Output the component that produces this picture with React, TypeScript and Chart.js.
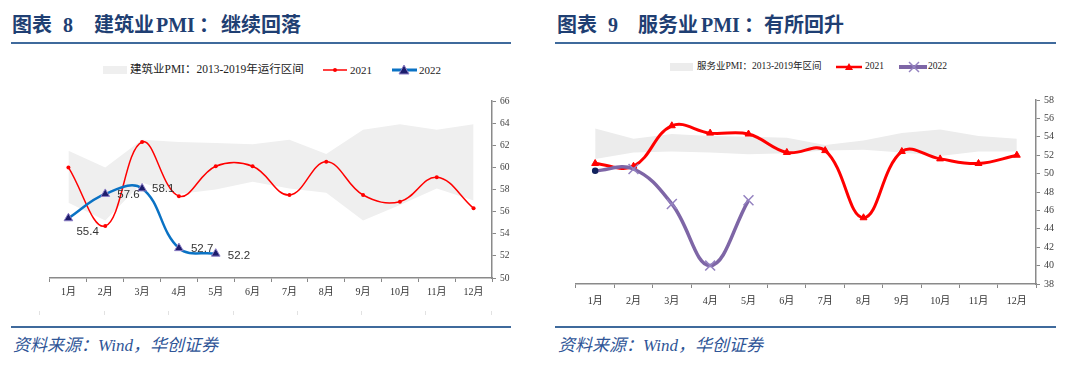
import React, { useEffect, useRef } from "react";
import { Chart, registerables } from "chart.js";
Chart.register(...registerables);

// ---------- data ----------
const months = ["1月", "2月", "3月", "4月", "5月", "6月", "7月", "8月", "9月", "10月", "11月", "12月"];

const con2021 = [60.0, 54.7, 62.3, 57.4, 60.1, 60.1, 57.5, 60.5, 57.5, 56.9, 59.1, 56.3];
const con2022 = [55.4, 57.6, 58.1, 52.7, 52.2];
const conBandHigh = [61.5, 60.0, 62.5, 62.3, 62.2, 62.1, 62.5, 61.2, 63.4, 63.9, 63.4, 63.9];
const conBandLow = [56.8, 55.2, 58.6, 57.6, 58.0, 58.7, 58.1, 57.7, 55.2, 56.6, 58.1, 57.0];

const svc2021 = [51.1, 50.8, 55.2, 54.4, 54.3, 52.3, 52.5, 45.2, 52.4, 51.6, 51.1, 52.0];
const svc2022 = [50.3, 50.5, 46.7, 40.0, 47.1];
const svcBandHigh = [54.9, 53.8, 54.3, 54.1, 54.0, 53.9, 53.1, 53.6, 54.4, 54.8, 54.1, 53.8];
const svcBandLow = [51.6, 52.3, 52.4, 52.3, 52.1, 52.2, 52.5, 52.6, 52.3, 51.9, 52.4, 52.4];

const conAxis = { min: 50, max: 66, step: 2 };
const svcAxis = { min: 38, max: 58, step: 2 };

// ---------- styles ----------
const SERIF = "'Liberation Serif', 'Noto Sans CJK SC', serif";
const SANS = "'Liberation Sans', Arial, sans-serif";
const labelOffsets = [[8, 14], [12, 1], [10, 0], [12, 1], [12, 2]];

const valueLabelPlugin = {
  id: "valueLabels",
  afterDatasetsDraw(chart: any) {
    const meta = chart.getDatasetMeta(3);
    const ctx = chart.ctx;
    ctx.save();
    ctx.font = `11.5px ${SANS}`;
    ctx.fillStyle = "#333";
    ctx.textBaseline = "middle";
    ctx.textAlign = "left";
    meta.data.forEach((pt: any, i: number) => {
      const [dx, dy] = labelOffsets[i];
      ctx.fillText(con2022[i].toFixed(1), pt.x + dx, pt.y + dy);
    });
    ctx.restore();
  },
};

function scales(axis: { min: number; max: number; step: number }, yFont: number, xPad: number, xH: number) {
  return {
    x: {
      offset: true,
      grid: { offset: true, drawOnChartArea: false, drawTicks: true, tickLength: 4, color: "#888", lineWidth: 1 },
      border: { display: true, color: "#8a8a8a", width: 1.5 },
      ticks: { font: { family: SERIF, size: 10 }, color: "#333", padding: xPad, maxRotation: 0, autoSkip: false },
      afterFit: (s: any) => {
        s.height = xH;
      },
    },
    y: {
      position: "right",
      min: axis.min,
      max: axis.max,
      ticks: { stepSize: axis.step, font: { family: SERIF, size: yFont }, color: "#404040", padding: 4 },
      grid: { drawOnChartArea: false, drawTicks: true, tickLength: 4, color: "#888", lineWidth: 1 },
      border: { display: true, color: "#8a8a8a", width: 1.5 },
      afterFit: (s: any) => {
        s.width = 28;
      },
    },
  };
}

function useChart(ref: React.RefObject<HTMLCanvasElement>, build: () => any) {
  useEffect(() => {
    if (!ref.current) return;
    const chart = new Chart(ref.current, build());
    return () => chart.destroy();
  }, []);
}

function ConstructionChart() {
  const ref = useRef<HTMLCanvasElement>(null);
  useChart(ref, () => ({
    type: "line",
    data: {
      labels: months,
      datasets: [
        { data: conBandLow, borderWidth: 0, borderColor: "rgba(0,0,0,0)", pointRadius: 0, fill: false, tension: 0, order: 5 },
        { data: conBandHigh, borderWidth: 0, borderColor: "rgba(0,0,0,0)", pointRadius: 0, fill: "-1", backgroundColor: "#efefef", tension: 0, order: 4 },
        {
          data: con2021, borderColor: "#ff0000", borderWidth: 1.5, tension: 0.4, pointRadius: 2,
          pointBackgroundColor: "#ff0000", pointBorderColor: "#ff0000", pointBorderWidth: 0, order: 2,
        },
        {
          data: con2022, borderColor: "#0a72c4", borderWidth: 2.5, tension: 0.4, pointStyle: "triangle", pointRadius: 5,
          pointBackgroundColor: "#1c1c6b", pointBorderColor: "#8a7cc4", pointBorderWidth: 1, order: 1,
        },
      ],
    },
    options: {
      responsive: false,
      animation: false,
      layout: { padding: { left: 10, right: 0, top: 11, bottom: 0 } },
      plugins: { legend: { display: false }, tooltip: { enabled: false }, filler: { drawTime: "beforeDatasetsDraw" } },
      scales: scales(conAxis, 9.5, 4, 27),
    },
    plugins: [valueLabelPlugin],
  }));
  return <canvas ref={ref} width={480} height={215} style={{ position: "absolute", left: 40, top: 90 }} />;
}

function ServiceChart() {
  const ref = useRef<HTMLCanvasElement>(null);
  useChart(ref, () => ({
    type: "line",
    data: {
      labels: months,
      datasets: [
        { data: svcBandLow, borderWidth: 0, borderColor: "rgba(0,0,0,0)", pointRadius: 0, fill: false, tension: 0, order: 5 },
        { data: svcBandHigh, borderWidth: 0, borderColor: "rgba(0,0,0,0)", pointRadius: 0, fill: "-1", backgroundColor: "#ececec", tension: 0, order: 4 },
        {
          data: svc2021, borderColor: "#ff0000", borderWidth: 3, tension: 0.4, pointStyle: "triangle", pointRadius: 4,
          pointBackgroundColor: "#ff0000", pointBorderColor: "#ff0000", pointBorderWidth: 1, order: 2,
        },
        {
          data: svc2022, borderColor: "#7e66a6", borderWidth: 3.5, tension: 0.4,
          pointStyle: ["circle", "crossRot", "crossRot", "crossRot", "crossRot"],
          pointRadius: [2.5, 7, 7, 7, 7],
          pointBackgroundColor: "#13235e",
          pointBorderColor: ["#13235e", "#9482c0", "#9482c0", "#9482c0", "#9482c0"],
          pointBorderWidth: 1.5, order: 1,
        },
      ],
    },
    options: {
      responsive: false,
      animation: false,
      layout: { padding: { left: 10, right: 0, top: 12, bottom: 0 } },
      plugins: { legend: { display: false }, tooltip: { enabled: false }, filler: { drawTime: "beforeDatasetsDraw" } },
      scales: scales(svcAxis, 10, 7, 28),
    },
  }));
  return <canvas ref={ref} width={498} height={224} style={{ position: "absolute", left: 566, top: 88 }} />;
}

const titleColor = "#1f3f73";
const lineColor = "#3f6a9c";

function T({ x, y, size, children, bold, italic, color, family }: any) {
  return (
    <div
      style={{
        position: "absolute", left: x, top: y - size / 2, fontSize: size, lineHeight: `${size}px`,
        fontWeight: bold ? "bold" : "normal", fontStyle: italic ? "italic" : "normal",
        color: color || "#222", fontFamily: family || SERIF, whiteSpace: "pre",
      }}
    >
      {children}
    </div>
  );
}

function Rule({ x, y, w }: any) {
  return <div style={{ position: "absolute", left: x, top: y, width: w, height: 2, background: lineColor }} />;
}

export default function App() {
  const faintTicks = [39, 104, 168, 233, 297, 361, 425, 491];
  return (
    <div style={{ position: "absolute", left: 0, top: 0, width: 1080, height: 386, background: "#fff", overflow: "hidden" }}>
      {/* titles */}
      <T x={12} y={25} size={20} bold color={titleColor}>图表</T>
      <T x={63} y={25} size={20} bold color={titleColor}>8</T>
      <T x={94} y={25} size={20} bold color={titleColor}>建筑业</T>
      <T x={156} y={25} size={20} bold color={titleColor}>PMI</T>
      <T x={199} y={25} size={20} bold color={titleColor}>：</T>
      <T x={221} y={25} size={20} bold color={titleColor}>继续回落</T>

      <T x={557} y={25} size={20} bold color={titleColor}>图表</T>
      <T x={608} y={25} size={20} bold color={titleColor}>9</T>
      <T x={638} y={25} size={20} bold color={titleColor}>服务业</T>
      <T x={701} y={25} size={20} bold color={titleColor}>PMI</T>
      <T x={744} y={25} size={20} bold color={titleColor}>：</T>
      <T x={764} y={25} size={20} bold color={titleColor}>有所回升</T>

      <Rule x={11} y={42} w={500} />
      <Rule x={555} y={42} w={501} />
      <Rule x={11} y={326} w={500} />
      <Rule x={555} y={326} w={501} />

      {faintTicks.map((x) => (
        <div key={x} style={{ position: "absolute", left: x, top: 311, width: 1, height: 4, background: "#e2e2e2" }} />
      ))}

      {/* left legend */}
      <svg style={{ position: "absolute", left: 0, top: 55 }} width={540} height={30}>
        <rect x={103} y={11} width={24} height={8} fill="#efefef" />
        <line x1={323} y1={15} x2={347} y2={15} stroke="#ff0000" strokeWidth={1.5} />
        <circle cx={335} cy={15} r={2} fill="#ff0000" />
        <line x1={392} y1={15} x2={417} y2={15} stroke="#0a72c4" strokeWidth={3} />
        <polygon points="404,10 409,19 399,19" fill="#1c1c6b" stroke="#8a7cc4" strokeWidth={1} />
      </svg>
      <T x={130} y={70} size={11.5}>建筑业PMI：2013-2019年运行区间</T>
      <T x={350} y={70} size={11}>2021</T>
      <T x={419} y={70} size={11}>2022</T>

      {/* right legend */}
      <svg style={{ position: "absolute", left: 540, top: 52 }} width={540} height={30}>
        <rect x={130} y={11} width={23} height={8} fill="#ececec" />
        <line x1={296} y1={15} x2={322} y2={15} stroke="#ff0000" strokeWidth={2.5} />
        <polygon points="309,11 313,18 305,18" fill="#ff0000" />
        <line x1={359} y1={15} x2={387} y2={15} stroke="#7e66a6" strokeWidth={4} />
        <line x1={369} y1={10} x2={379} y2={20} stroke="#9482c0" strokeWidth={1.5} />
        <line x1={379} y1={10} x2={369} y2={20} stroke="#9482c0" strokeWidth={1.5} />
      </svg>
      <T x={697} y={67} size={9.5}>服务业PMI：2013-2019年区间</T>
      <T x={865} y={67} size={9.5}>2021</T>
      <T x={928} y={67} size={9.5}>2022</T>

      <ConstructionChart />
      <ServiceChart />

      {/* sources */}
      <T x={13} y={345} size={17} italic color="#2f5597">资料来源：Wind，华创证券</T>
      <T x={558} y={345} size={17} italic color="#2f5597">资料来源：Wind，华创证券</T>
    </div>
  );
}
